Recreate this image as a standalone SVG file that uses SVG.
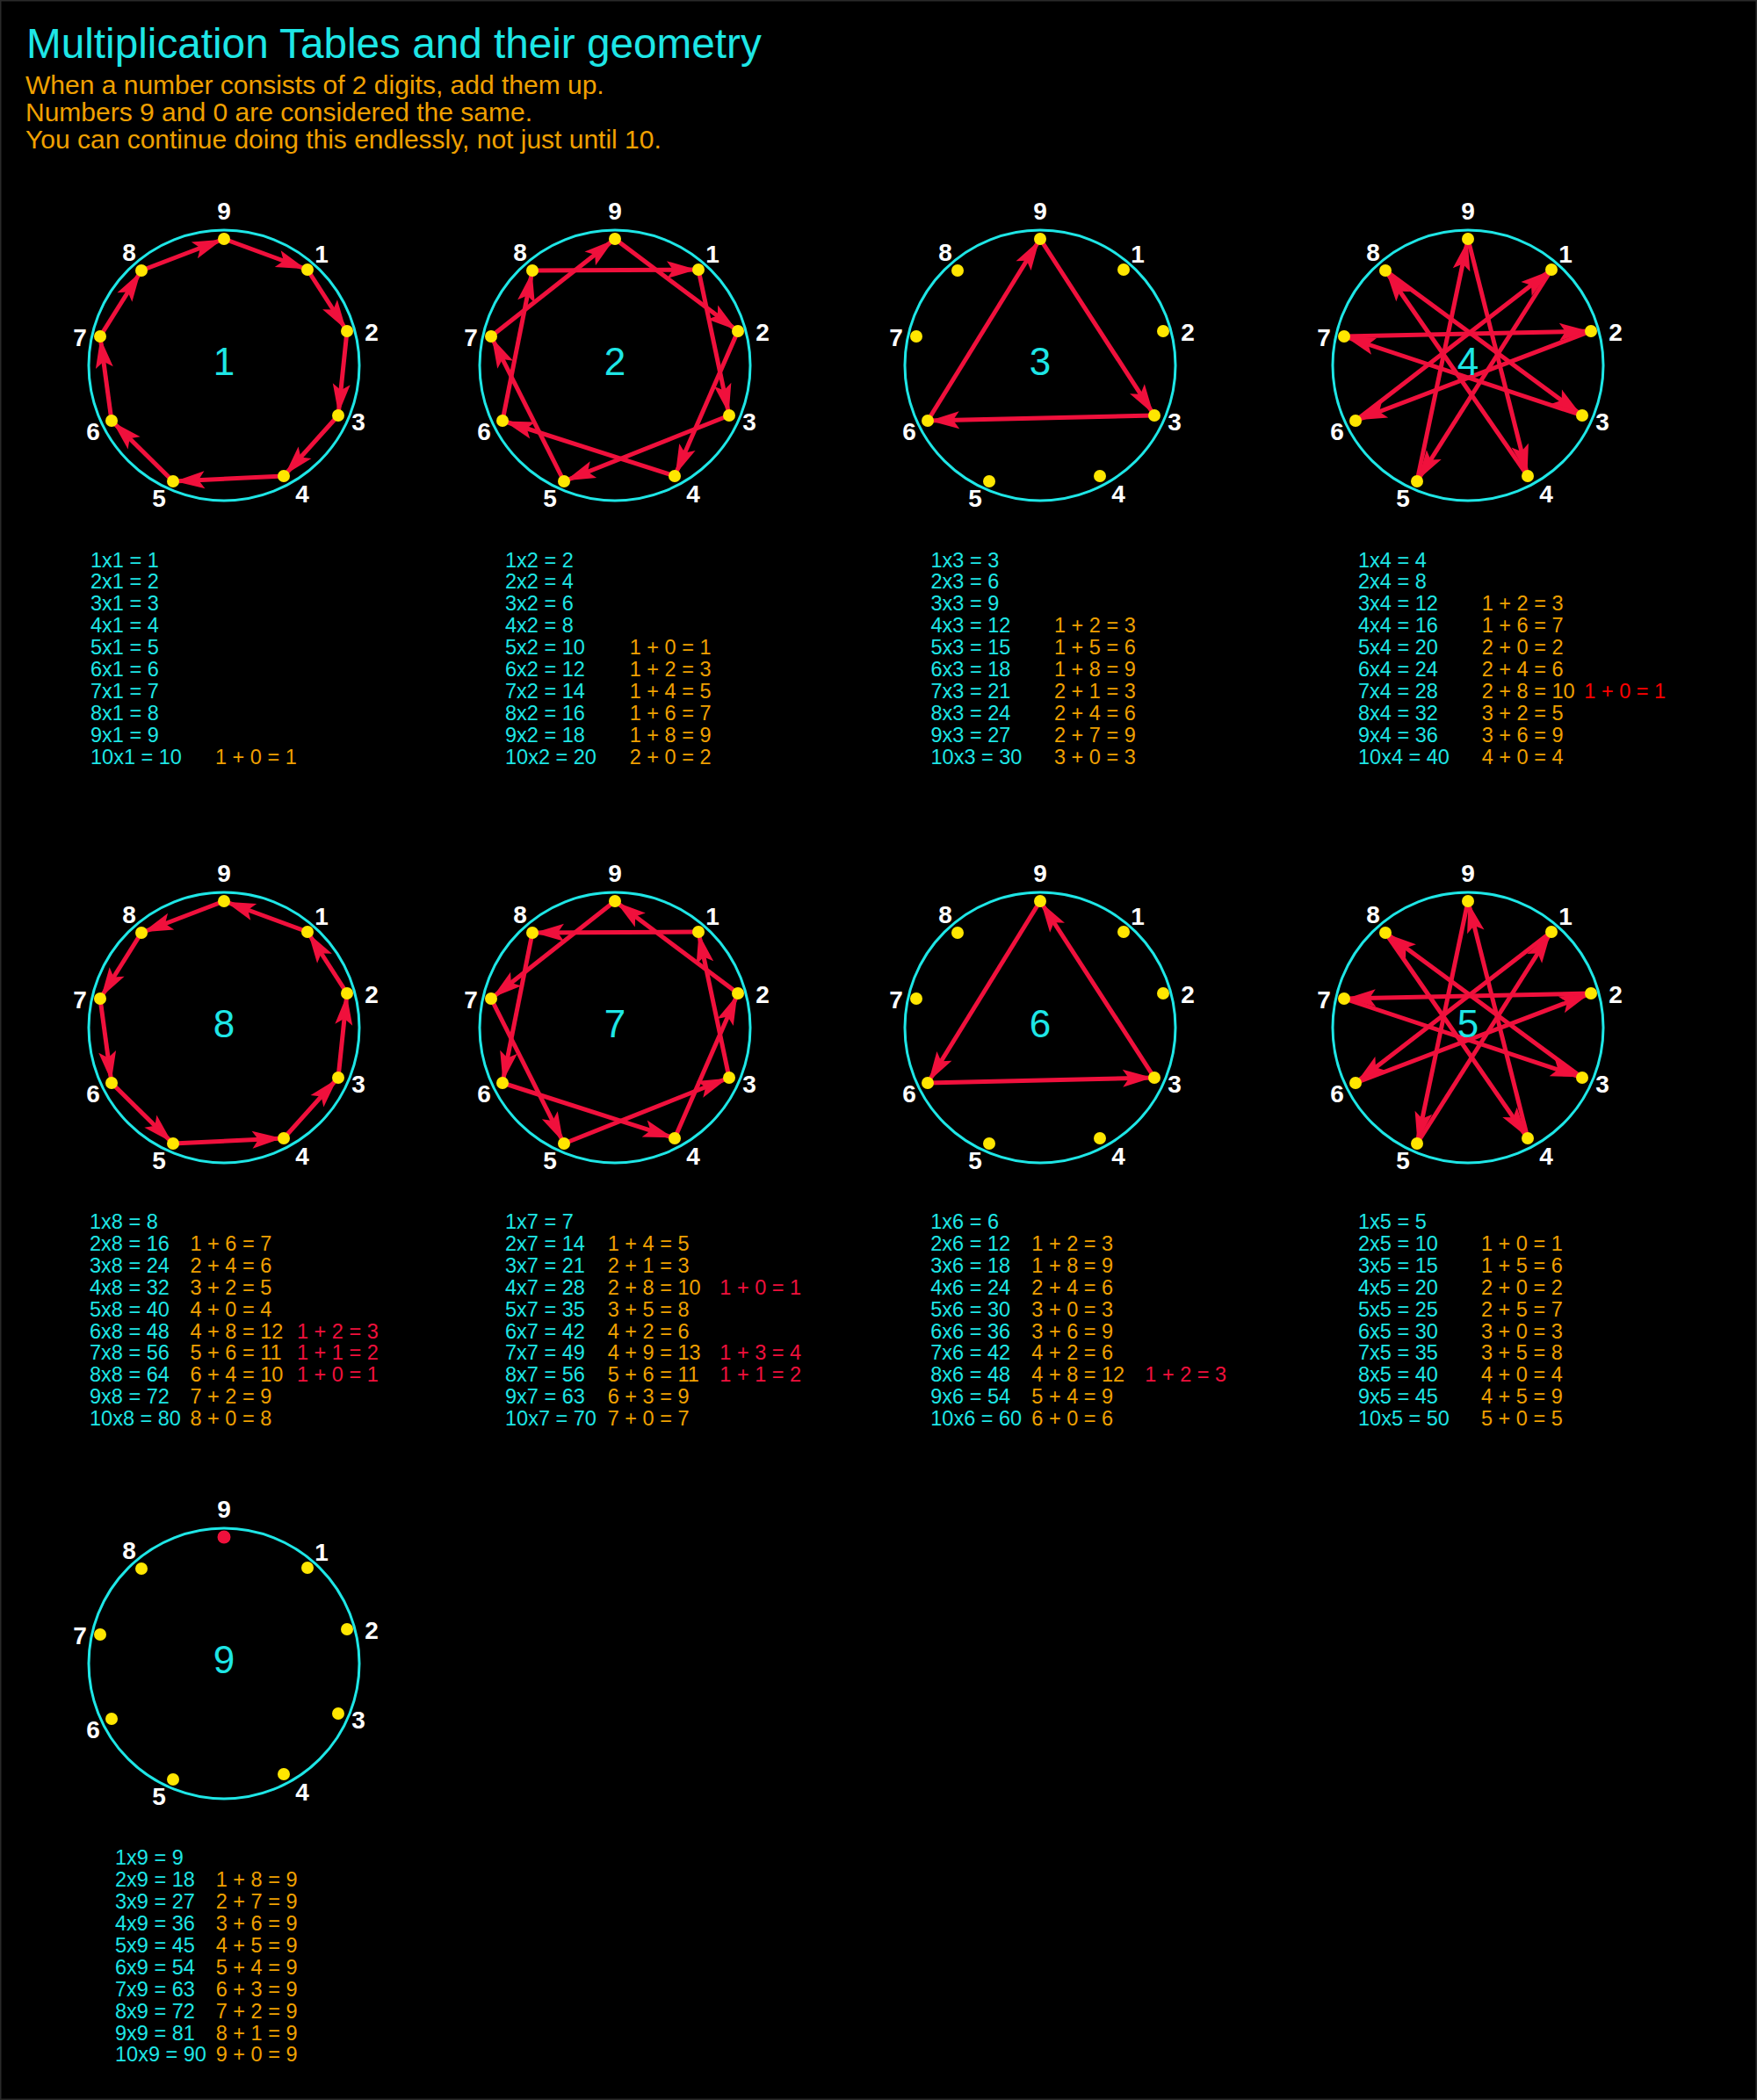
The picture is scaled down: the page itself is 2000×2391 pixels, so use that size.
<svg xmlns="http://www.w3.org/2000/svg" width="2000" height="2391" viewBox="0 0 2000 2391">
<style>
.ring{fill:none;stroke:#1ee6e6;stroke-width:3}
.dot{fill:#ffe600}
.lbl{font-family:'Liberation Sans',Arial,sans-serif;font-weight:bold;font-size:28px;fill:#ffffff;text-anchor:middle}
.num{font-family:'Liberation Sans',Arial,sans-serif;font-size:44px;fill:#1ee6e6;text-anchor:middle}
.t{font-family:'Liberation Sans',Arial,sans-serif;font-size:23.5px}
.c{fill:#1ee6e6}
.o{fill:#f0a000}
.r{fill:#f0103c}
.rr{fill:#ff0000}
.a{stroke:#f0103c;stroke-width:5;fill:none;marker-end:url(#ah)}
</style>
<defs>
<marker id="ah" markerUnits="userSpaceOnUse" orient="auto" markerWidth="50" markerHeight="30" viewBox="-45 -15 50 30" refX="0" refY="0" overflow="visible">
<path d="M-2,0 L-36,-10 L-29,0 L-36,10 Z" fill="#f0103c"/>
</marker>
<g id="dots">
<circle class="dot" cx="0" cy="-144" r="7"/>
<circle class="dot" cx="95" cy="-109" r="7"/>
<circle class="dot" cx="140" cy="-39" r="7"/>
<circle class="dot" cx="130" cy="57" r="7"/>
<circle class="dot" cx="68" cy="126" r="7"/>
<circle class="dot" cx="-58" cy="132" r="7"/>
<circle class="dot" cx="-128" cy="63" r="7"/>
<circle class="dot" cx="-141" cy="-33" r="7"/>
<circle class="dot" cx="-94" cy="-108" r="7"/>
</g>
</defs>
<rect x="0" y="0" width="2000" height="2391" fill="#000000" stroke="#2a2a2a" stroke-width="3"/>

<g id="header">
<text x="30" y="66" font-family="'Liberation Sans',Arial,sans-serif" font-size="47.7" fill="#1ee6e6">Multiplication Tables and their geometry</text>
<text font-family="'Liberation Sans',Arial,sans-serif" font-size="30" fill="#f0a000">
<tspan x="29" y="107">When a number consists of 2 digits, add them up.</tspan>
<tspan x="29" y="138">Numbers 9 and 0 are considered the same.</tspan>
<tspan x="29" y="168.5">You can continue doing this endlessly, not just until 10.</tspan>
</text>
</g>

<g id="connectors">
<g id="conn-1" transform="translate(255,416)">
<line class="a" x1="0" y1="-144" x2="95" y2="-109"/>
<line class="a" x1="95" y1="-109" x2="140" y2="-39"/>
<line class="a" x1="140" y1="-39" x2="130" y2="57"/>
<line class="a" x1="130" y1="57" x2="68" y2="126"/>
<line class="a" x1="68" y1="126" x2="-58" y2="132"/>
<line class="a" x1="-58" y1="132" x2="-128" y2="63"/>
<line class="a" x1="-128" y1="63" x2="-141" y2="-33"/>
<line class="a" x1="-141" y1="-33" x2="-94" y2="-108"/>
<line class="a" x1="-94" y1="-108" x2="0" y2="-144"/>
</g>
<g id="conn-2" transform="translate(700,416)">
<line class="a" x1="140" y1="-39" x2="68" y2="126"/>
<line class="a" x1="68" y1="126" x2="-128" y2="63"/>
<line class="a" x1="-128" y1="63" x2="-94" y2="-108"/>
<line class="a" x1="-94" y1="-108" x2="95" y2="-109"/>
<line class="a" x1="95" y1="-109" x2="130" y2="57"/>
<line class="a" x1="130" y1="57" x2="-58" y2="132"/>
<line class="a" x1="-58" y1="132" x2="-141" y2="-33"/>
<line class="a" x1="-141" y1="-33" x2="0" y2="-144"/>
<line class="a" x1="0" y1="-144" x2="140" y2="-39"/>
</g>
<g id="conn-3" transform="translate(1184,416)">
<line class="a" x1="130" y1="57" x2="-128" y2="63"/>
<line class="a" x1="-128" y1="63" x2="0" y2="-144"/>
<line class="a" x1="0" y1="-144" x2="130" y2="57"/>
</g>
<g id="conn-4" transform="translate(1671,416)">
<line class="a" x1="68" y1="126" x2="-94" y2="-108"/>
<line class="a" x1="-94" y1="-108" x2="130" y2="57"/>
<line class="a" x1="130" y1="57" x2="-141" y2="-33"/>
<line class="a" x1="-141" y1="-33" x2="140" y2="-39"/>
<line class="a" x1="140" y1="-39" x2="-128" y2="63"/>
<line class="a" x1="-128" y1="63" x2="95" y2="-109"/>
<line class="a" x1="95" y1="-109" x2="-58" y2="132"/>
<line class="a" x1="-58" y1="132" x2="0" y2="-144"/>
<line class="a" x1="0" y1="-144" x2="68" y2="126"/>
</g>
<g id="conn-8" transform="translate(255,1170)">
<line class="a" x1="-94" y1="-108" x2="-141" y2="-33"/>
<line class="a" x1="-141" y1="-33" x2="-128" y2="63"/>
<line class="a" x1="-128" y1="63" x2="-58" y2="132"/>
<line class="a" x1="-58" y1="132" x2="68" y2="126"/>
<line class="a" x1="68" y1="126" x2="130" y2="57"/>
<line class="a" x1="130" y1="57" x2="140" y2="-39"/>
<line class="a" x1="140" y1="-39" x2="95" y2="-109"/>
<line class="a" x1="95" y1="-109" x2="0" y2="-144"/>
<line class="a" x1="0" y1="-144" x2="-94" y2="-108"/>
</g>
<g id="conn-7" transform="translate(700,1170)">
<line class="a" x1="-141" y1="-33" x2="-58" y2="132"/>
<line class="a" x1="-58" y1="132" x2="130" y2="57"/>
<line class="a" x1="130" y1="57" x2="95" y2="-109"/>
<line class="a" x1="95" y1="-109" x2="-94" y2="-108"/>
<line class="a" x1="-94" y1="-108" x2="-128" y2="63"/>
<line class="a" x1="-128" y1="63" x2="68" y2="126"/>
<line class="a" x1="68" y1="126" x2="140" y2="-39"/>
<line class="a" x1="140" y1="-39" x2="0" y2="-144"/>
<line class="a" x1="0" y1="-144" x2="-141" y2="-33"/>
</g>
<g id="conn-6" transform="translate(1184,1170)">
<line class="a" x1="-128" y1="63" x2="130" y2="57"/>
<line class="a" x1="130" y1="57" x2="0" y2="-144"/>
<line class="a" x1="0" y1="-144" x2="-128" y2="63"/>
</g>
<g id="conn-5" transform="translate(1671,1170)">
<line class="a" x1="-58" y1="132" x2="95" y2="-109"/>
<line class="a" x1="95" y1="-109" x2="-128" y2="63"/>
<line class="a" x1="-128" y1="63" x2="140" y2="-39"/>
<line class="a" x1="140" y1="-39" x2="-141" y2="-33"/>
<line class="a" x1="-141" y1="-33" x2="130" y2="57"/>
<line class="a" x1="130" y1="57" x2="-94" y2="-108"/>
<line class="a" x1="-94" y1="-108" x2="68" y2="126"/>
<line class="a" x1="68" y1="126" x2="0" y2="-144"/>
<line class="a" x1="0" y1="-144" x2="-58" y2="132"/>
</g>
</g>

<g id="table-1">
<g transform="translate(255,416)">
<circle class="ring" cx="0" cy="0" r="154"/>
<use href="#dots"/>
<text class="lbl" x="0" y="-166">9</text><text class="lbl" x="111" y="-117">1</text><text class="lbl" x="168" y="-28">2</text><text class="lbl" x="153" y="74">3</text><text class="lbl" x="89" y="156">4</text><text class="lbl" x="-74" y="161">5</text><text class="lbl" x="-149" y="85">6</text><text class="lbl" x="-164" y="-22">7</text><text class="lbl" x="-108" y="-119">8</text>
<text class="num" x="0" y="11">1</text>
</g>
<text class="t c"><tspan x="103" y="645.5">1x1 = 1</tspan><tspan x="103" dy="24.9">2x1 = 2</tspan><tspan x="103" dy="24.9">3x1 = 3</tspan><tspan x="103" dy="24.9">4x1 = 4</tspan><tspan x="103" dy="24.9">5x1 = 5</tspan><tspan x="103" dy="24.9">6x1 = 6</tspan><tspan x="103" dy="24.9">7x1 = 7</tspan><tspan x="103" dy="24.9">8x1 = 8</tspan><tspan x="103" dy="24.9">9x1 = 9</tspan><tspan x="103" dy="24.9">10x1 = 10</tspan></text>
<text class="t o" x="245" y="869.6">1 + 0 = 1</text>
</g>

<g id="table-2">
<g transform="translate(700,416)">
<circle class="ring" cx="0" cy="0" r="154"/>
<use href="#dots"/>
<text class="lbl" x="0" y="-166">9</text><text class="lbl" x="111" y="-117">1</text><text class="lbl" x="168" y="-28">2</text><text class="lbl" x="153" y="74">3</text><text class="lbl" x="89" y="156">4</text><text class="lbl" x="-74" y="161">5</text><text class="lbl" x="-149" y="85">6</text><text class="lbl" x="-164" y="-22">7</text><text class="lbl" x="-108" y="-119">8</text>
<text class="num" x="0" y="11">2</text>
</g>
<text class="t c"><tspan x="575" y="645.5">1x2 = 2</tspan><tspan x="575" dy="24.9">2x2 = 4</tspan><tspan x="575" dy="24.9">3x2 = 6</tspan><tspan x="575" dy="24.9">4x2 = 8</tspan><tspan x="575" dy="24.9">5x2 = 10</tspan><tspan x="575" dy="24.9">6x2 = 12</tspan><tspan x="575" dy="24.9">7x2 = 14</tspan><tspan x="575" dy="24.9">8x2 = 16</tspan><tspan x="575" dy="24.9">9x2 = 18</tspan><tspan x="575" dy="24.9">10x2 = 20</tspan></text>
<text class="t o"><tspan x="716.7" y="745.1">1 + 0 = 1</tspan><tspan x="716.7" dy="24.9">1 + 2 = 3</tspan><tspan x="716.7" dy="24.9">1 + 4 = 5</tspan><tspan x="716.7" dy="24.9">1 + 6 = 7</tspan><tspan x="716.7" dy="24.9">1 + 8 = 9</tspan><tspan x="716.7" dy="24.9">2 + 0 = 2</tspan></text>
</g>

<g id="table-3">
<g transform="translate(1184,416)">
<circle class="ring" cx="0" cy="0" r="154"/>
<use href="#dots"/>
<text class="lbl" x="0" y="-166">9</text><text class="lbl" x="111" y="-117">1</text><text class="lbl" x="168" y="-28">2</text><text class="lbl" x="153" y="74">3</text><text class="lbl" x="89" y="156">4</text><text class="lbl" x="-74" y="161">5</text><text class="lbl" x="-149" y="85">6</text><text class="lbl" x="-164" y="-22">7</text><text class="lbl" x="-108" y="-119">8</text>
<text class="num" x="0" y="11">3</text>
</g>
<text class="t c"><tspan x="1059.5" y="645.5">1x3 = 3</tspan><tspan x="1059.5" dy="24.9">2x3 = 6</tspan><tspan x="1059.5" dy="24.9">3x3 = 9</tspan><tspan x="1059.5" dy="24.9">4x3 = 12</tspan><tspan x="1059.5" dy="24.9">5x3 = 15</tspan><tspan x="1059.5" dy="24.9">6x3 = 18</tspan><tspan x="1059.5" dy="24.9">7x3 = 21</tspan><tspan x="1059.5" dy="24.9">8x3 = 24</tspan><tspan x="1059.5" dy="24.9">9x3 = 27</tspan><tspan x="1059.5" dy="24.9">10x3 = 30</tspan></text>
<text class="t o"><tspan x="1200" y="720.2">1 + 2 = 3</tspan><tspan x="1200" dy="24.9">1 + 5 = 6</tspan><tspan x="1200" dy="24.9">1 + 8 = 9</tspan><tspan x="1200" dy="24.9">2 + 1 = 3</tspan><tspan x="1200" dy="24.9">2 + 4 = 6</tspan><tspan x="1200" dy="24.9">2 + 7 = 9</tspan><tspan x="1200" dy="24.9">3 + 0 = 3</tspan></text>
</g>

<g id="table-4">
<g transform="translate(1671,416)">
<circle class="ring" cx="0" cy="0" r="154"/>
<use href="#dots"/>
<text class="lbl" x="0" y="-166">9</text><text class="lbl" x="111" y="-117">1</text><text class="lbl" x="168" y="-28">2</text><text class="lbl" x="153" y="74">3</text><text class="lbl" x="89" y="156">4</text><text class="lbl" x="-74" y="161">5</text><text class="lbl" x="-149" y="85">6</text><text class="lbl" x="-164" y="-22">7</text><text class="lbl" x="-108" y="-119">8</text>
<text class="num" x="0" y="11">4</text>
</g>
<text class="t c"><tspan x="1546" y="645.5">1x4 = 4</tspan><tspan x="1546" dy="24.9">2x4 = 8</tspan><tspan x="1546" dy="24.9">3x4 = 12</tspan><tspan x="1546" dy="24.9">4x4 = 16</tspan><tspan x="1546" dy="24.9">5x4 = 20</tspan><tspan x="1546" dy="24.9">6x4 = 24</tspan><tspan x="1546" dy="24.9">7x4 = 28</tspan><tspan x="1546" dy="24.9">8x4 = 32</tspan><tspan x="1546" dy="24.9">9x4 = 36</tspan><tspan x="1546" dy="24.9">10x4 = 40</tspan></text>
<text class="t o"><tspan x="1686.7" y="695.3">1 + 2 = 3</tspan><tspan x="1686.7" dy="24.9">1 + 6 = 7</tspan><tspan x="1686.7" dy="24.9">2 + 0 = 2</tspan><tspan x="1686.7" dy="24.9">2 + 4 = 6</tspan><tspan x="1686.7" dy="24.9">2 + 8 = 10</tspan><tspan x="1686.7" dy="24.9">3 + 2 = 5</tspan><tspan x="1686.7" dy="24.9">3 + 6 = 9</tspan><tspan x="1686.7" dy="24.9">4 + 0 = 4</tspan></text>
<text class="t rr" x="1803.3" y="794.9">1 + 0 = 1</text>
</g>

<g id="table-8">
<g transform="translate(255,1170)">
<circle class="ring" cx="0" cy="0" r="154"/>
<use href="#dots"/>
<text class="lbl" x="0" y="-166">9</text><text class="lbl" x="111" y="-117">1</text><text class="lbl" x="168" y="-28">2</text><text class="lbl" x="153" y="74">3</text><text class="lbl" x="89" y="156">4</text><text class="lbl" x="-74" y="161">5</text><text class="lbl" x="-149" y="85">6</text><text class="lbl" x="-164" y="-22">7</text><text class="lbl" x="-108" y="-119">8</text>
<text class="num" x="0" y="11">8</text>
</g>
<text class="t c"><tspan x="102" y="1399">1x8 = 8</tspan><tspan x="102" dy="24.9">2x8 = 16</tspan><tspan x="102" dy="24.9">3x8 = 24</tspan><tspan x="102" dy="24.9">4x8 = 32</tspan><tspan x="102" dy="24.9">5x8 = 40</tspan><tspan x="102" dy="24.9">6x8 = 48</tspan><tspan x="102" dy="24.9">7x8 = 56</tspan><tspan x="102" dy="24.9">8x8 = 64</tspan><tspan x="102" dy="24.9">9x8 = 72</tspan><tspan x="102" dy="24.9">10x8 = 80</tspan></text>
<text class="t o"><tspan x="216.5" y="1423.9">1 + 6 = 7</tspan><tspan x="216.5" dy="24.9">2 + 4 = 6</tspan><tspan x="216.5" dy="24.9">3 + 2 = 5</tspan><tspan x="216.5" dy="24.9">4 + 0 = 4</tspan><tspan x="216.5" dy="24.9">4 + 8 = 12</tspan><tspan x="216.5" dy="24.9">5 + 6 = 11</tspan><tspan x="216.5" dy="24.9">6 + 4 = 10</tspan><tspan x="216.5" dy="24.9">7 + 2 = 9</tspan><tspan x="216.5" dy="24.9">8 + 0 = 8</tspan></text>
<text class="t r"><tspan x="338" y="1523.5">1 + 2 = 3</tspan><tspan x="338" dy="24.9">1 + 1 = 2</tspan><tspan x="338" dy="24.9">1 + 0 = 1</tspan></text>
</g>

<g id="table-7">
<g transform="translate(700,1170)">
<circle class="ring" cx="0" cy="0" r="154"/>
<use href="#dots"/>
<text class="lbl" x="0" y="-166">9</text><text class="lbl" x="111" y="-117">1</text><text class="lbl" x="168" y="-28">2</text><text class="lbl" x="153" y="74">3</text><text class="lbl" x="89" y="156">4</text><text class="lbl" x="-74" y="161">5</text><text class="lbl" x="-149" y="85">6</text><text class="lbl" x="-164" y="-22">7</text><text class="lbl" x="-108" y="-119">8</text>
<text class="num" x="0" y="11">7</text>
</g>
<text class="t c"><tspan x="575" y="1399">1x7 = 7</tspan><tspan x="575" dy="24.9">2x7 = 14</tspan><tspan x="575" dy="24.9">3x7 = 21</tspan><tspan x="575" dy="24.9">4x7 = 28</tspan><tspan x="575" dy="24.9">5x7 = 35</tspan><tspan x="575" dy="24.9">6x7 = 42</tspan><tspan x="575" dy="24.9">7x7 = 49</tspan><tspan x="575" dy="24.9">8x7 = 56</tspan><tspan x="575" dy="24.9">9x7 = 63</tspan><tspan x="575" dy="24.9">10x7 = 70</tspan></text>
<text class="t o"><tspan x="691.7" y="1423.9">1 + 4 = 5</tspan><tspan x="691.7" dy="24.9">2 + 1 = 3</tspan><tspan x="691.7" dy="24.9">2 + 8 = 10</tspan><tspan x="691.7" dy="24.9">3 + 5 = 8</tspan><tspan x="691.7" dy="24.9">4 + 2 = 6</tspan><tspan x="691.7" dy="24.9">4 + 9 = 13</tspan><tspan x="691.7" dy="24.9">5 + 6 = 11</tspan><tspan x="691.7" dy="24.9">6 + 3 = 9</tspan><tspan x="691.7" dy="24.9">7 + 0 = 7</tspan></text>
<text class="t r" x="819.3" y="1473.7">1 + 0 = 1</text>
<text class="t r"><tspan x="819.3" y="1548.4">1 + 3 = 4</tspan><tspan x="819.3" dy="24.9">1 + 1 = 2</tspan></text>
</g>

<g id="table-6">
<g transform="translate(1184,1170)">
<circle class="ring" cx="0" cy="0" r="154"/>
<use href="#dots"/>
<text class="lbl" x="0" y="-166">9</text><text class="lbl" x="111" y="-117">1</text><text class="lbl" x="168" y="-28">2</text><text class="lbl" x="153" y="74">3</text><text class="lbl" x="89" y="156">4</text><text class="lbl" x="-74" y="161">5</text><text class="lbl" x="-149" y="85">6</text><text class="lbl" x="-164" y="-22">7</text><text class="lbl" x="-108" y="-119">8</text>
<text class="num" x="0" y="11">6</text>
</g>
<text class="t c"><tspan x="1059.3" y="1399">1x6 = 6</tspan><tspan x="1059.3" dy="24.9">2x6 = 12</tspan><tspan x="1059.3" dy="24.9">3x6 = 18</tspan><tspan x="1059.3" dy="24.9">4x6 = 24</tspan><tspan x="1059.3" dy="24.9">5x6 = 30</tspan><tspan x="1059.3" dy="24.9">6x6 = 36</tspan><tspan x="1059.3" dy="24.9">7x6 = 42</tspan><tspan x="1059.3" dy="24.9">8x6 = 48</tspan><tspan x="1059.3" dy="24.9">9x6 = 54</tspan><tspan x="1059.3" dy="24.9">10x6 = 60</tspan></text>
<text class="t o"><tspan x="1174.3" y="1423.9">1 + 2 = 3</tspan><tspan x="1174.3" dy="24.9">1 + 8 = 9</tspan><tspan x="1174.3" dy="24.9">2 + 4 = 6</tspan><tspan x="1174.3" dy="24.9">3 + 0 = 3</tspan><tspan x="1174.3" dy="24.9">3 + 6 = 9</tspan><tspan x="1174.3" dy="24.9">4 + 2 = 6</tspan><tspan x="1174.3" dy="24.9">4 + 8 = 12</tspan><tspan x="1174.3" dy="24.9">5 + 4 = 9</tspan><tspan x="1174.3" dy="24.9">6 + 0 = 6</tspan></text>
<text class="t r" x="1303.3" y="1573.3">1 + 2 = 3</text>
</g>

<g id="table-5">
<g transform="translate(1671,1170)">
<circle class="ring" cx="0" cy="0" r="154"/>
<use href="#dots"/>
<text class="lbl" x="0" y="-166">9</text><text class="lbl" x="111" y="-117">1</text><text class="lbl" x="168" y="-28">2</text><text class="lbl" x="153" y="74">3</text><text class="lbl" x="89" y="156">4</text><text class="lbl" x="-74" y="161">5</text><text class="lbl" x="-149" y="85">6</text><text class="lbl" x="-164" y="-22">7</text><text class="lbl" x="-108" y="-119">8</text>
<text class="num" x="0" y="11">5</text>
</g>
<text class="t c"><tspan x="1546" y="1399">1x5 = 5</tspan><tspan x="1546" dy="24.9">2x5 = 10</tspan><tspan x="1546" dy="24.9">3x5 = 15</tspan><tspan x="1546" dy="24.9">4x5 = 20</tspan><tspan x="1546" dy="24.9">5x5 = 25</tspan><tspan x="1546" dy="24.9">6x5 = 30</tspan><tspan x="1546" dy="24.9">7x5 = 35</tspan><tspan x="1546" dy="24.9">8x5 = 40</tspan><tspan x="1546" dy="24.9">9x5 = 45</tspan><tspan x="1546" dy="24.9">10x5 = 50</tspan></text>
<text class="t o"><tspan x="1686" y="1423.9">1 + 0 = 1</tspan><tspan x="1686" dy="24.9">1 + 5 = 6</tspan><tspan x="1686" dy="24.9">2 + 0 = 2</tspan><tspan x="1686" dy="24.9">2 + 5 = 7</tspan><tspan x="1686" dy="24.9">3 + 0 = 3</tspan><tspan x="1686" dy="24.9">3 + 5 = 8</tspan><tspan x="1686" dy="24.9">4 + 0 = 4</tspan><tspan x="1686" dy="24.9">4 + 5 = 9</tspan><tspan x="1686" dy="24.9">5 + 0 = 5</tspan></text>
</g>

<g id="table-9">
<g transform="translate(255,1894)">
<circle class="ring" cx="0" cy="0" r="154"/>
<use href="#dots"/>
<circle cx="0" cy="-144" r="7.5" fill="#f0103c"/>
<text class="lbl" x="0" y="-166">9</text><text class="lbl" x="111" y="-117">1</text><text class="lbl" x="168" y="-28">2</text><text class="lbl" x="153" y="74">3</text><text class="lbl" x="89" y="156">4</text><text class="lbl" x="-74" y="161">5</text><text class="lbl" x="-149" y="85">6</text><text class="lbl" x="-164" y="-22">7</text><text class="lbl" x="-108" y="-119">8</text>
<text class="num" x="0" y="11">9</text>
</g>
<text class="t c"><tspan x="131" y="2123.3">1x9 = 9</tspan><tspan x="131" dy="24.9">2x9 = 18</tspan><tspan x="131" dy="24.9">3x9 = 27</tspan><tspan x="131" dy="24.9">4x9 = 36</tspan><tspan x="131" dy="24.9">5x9 = 45</tspan><tspan x="131" dy="24.9">6x9 = 54</tspan><tspan x="131" dy="24.9">7x9 = 63</tspan><tspan x="131" dy="24.9">8x9 = 72</tspan><tspan x="131" dy="24.9">9x9 = 81</tspan><tspan x="131" dy="24.9">10x9 = 90</tspan></text>
<text class="t o"><tspan x="245.7" y="2148.2">1 + 8 = 9</tspan><tspan x="245.7" dy="24.9">2 + 7 = 9</tspan><tspan x="245.7" dy="24.9">3 + 6 = 9</tspan><tspan x="245.7" dy="24.9">4 + 5 = 9</tspan><tspan x="245.7" dy="24.9">5 + 4 = 9</tspan><tspan x="245.7" dy="24.9">6 + 3 = 9</tspan><tspan x="245.7" dy="24.9">7 + 2 = 9</tspan><tspan x="245.7" dy="24.9">8 + 1 = 9</tspan><tspan x="245.7" dy="24.9">9 + 0 = 9</tspan></text>
</g>
</svg>
